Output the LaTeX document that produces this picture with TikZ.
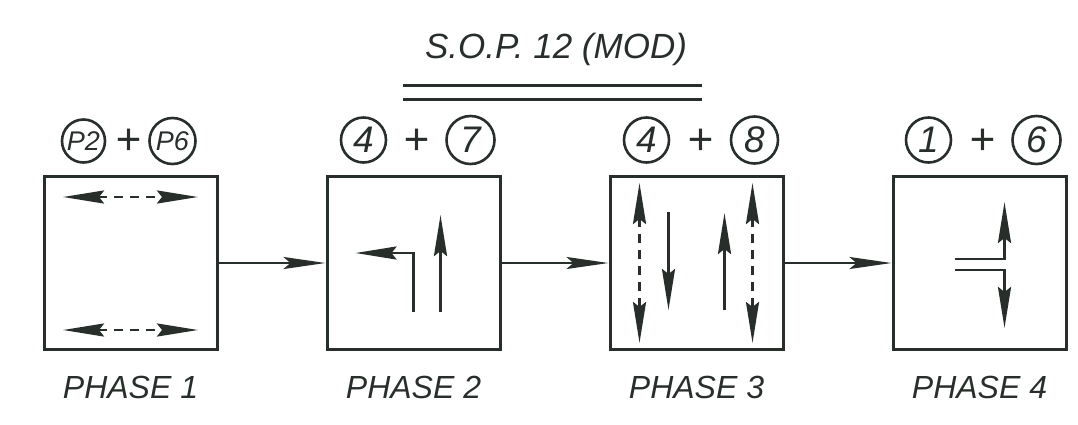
\documentclass[tikz,border=0pt]{standalone}
\usepackage{fontspec}
\setmainfont{Liberation Sans}
\usetikzlibrary{positioning,arrows.meta,calc}
\definecolor{ink}{RGB}{40,46,42}
\tikzset{>={Stealth[length=41pt,width=13pt,inset=5pt]}}

\begin{document}
\begin{tikzpicture}[
    x=1pt, y=-1pt,
    node distance=107pt,
    phasebox/.style={draw=ink, line width=3pt, minimum size=173pt, inner sep=0pt},
    ring/.style={draw=ink, circle, line width=2.6pt, minimum size=45pt, inner sep=0pt, text=ink,
        font=\fontsize{37}{37}\selectfont\itshape},
    plus/.style={text=ink, inner sep=0pt, font=\fontsize{44}{44}\selectfont\itshape},
    caption/.style={text=ink, inner sep=0pt, font=\fontsize{32}{32}\selectfont\itshape},
    move/.style={draw=ink, line width=2.8pt, ->},
    both/.style={move, <->, dash pattern=on 9pt off 7pt},
    link/.style={draw=ink, line width=2.6pt, -{Stealth[length=42pt,width=12pt,inset=7pt]}}
]
    \useasboundingbox (0,0) rectangle (1078,424);

    % Title
    \node[caption, font=\fontsize{35}{35}\selectfont\itshape] (title) at (556,49) {S.O.P. 12 (MOD)};
    \draw[ink, line width=3pt] ($(title.center)+(-153,36)$) -- ++(299,0);
    \draw[ink, line width=3pt] ($(title.center)+(-153,50)$) -- ++(299,0);

    % Boxes
    \node[phasebox] (p1) at (130.5,263) {};
    \node[phasebox, right=of p1] (p2) {};
    \node[phasebox, right=of p2] (p3) {};
    \node[phasebox, right=of p3] (p4) {};

    % Signal groups
    \node[ring, minimum size=43pt, font=\fontsize{27}{27}\selectfont\itshape] (g1a) at ($(p1.north)+(-47,-34)$) {P2};
    \node[ring, minimum size=46pt, font=\fontsize{27}{27}\selectfont\itshape] (g1b) at ($(p1.north)+(42,-34)$) {P6};
    \node[plus] (s1) at ($(p1.north)+(-2,-33)$) {+};

    \node[ring] (g2a) at ($(p2.north)+(-50,-35)$) {4};
    \node[ring, minimum size=48pt] (g2b) at ($(p2.north)+(57,-35)$) {7};
    \node[plus] (s2) at ($(p2.north)+(3,-33)$) {+};

    \node[ring] (g3a) at ($(p3.north)+(-50,-35)$) {4};
    \node[ring, minimum size=47pt] (g3b) at ($(p3.north)+(58,-35)$) {8};
    \node[plus] (s3) at ($(p3.north)+(4,-33)$) {+};

    \node[ring] (g4a) at ($(p4.north)+(-51,-35)$) {1};
    \node[ring, minimum size=48pt] (g4b) at ($(p4.north)+(57,-35)$) {6};
    \node[plus] (s4) at ($(p4.north)+(3,-33)$) {+};

    % Captions
    \node[caption] (l1) at ($(p1.south)+(0,36)$) {PHASE 1};
    \node[caption] (l2) at ($(p2.south)+(0,36)$) {PHASE 2};
    \node[caption] (l3) at ($(p3.south)+(0,36)$) {PHASE 3};
    \node[caption] (l4) at ($(p4.south)+(0,36)$) {PHASE 4};

    % Arrows
    \draw[link] (p1) -- (p2);
    \draw[link] (p2) -- (p3);
    \draw[link] (p3) -- (p4);

    % Movements
    \begin{scope}[shift={(p1.center)}]
        \draw[both] (-67.5,-66) -- (67.5,-66);
        \draw[both] (-67.5,67) -- (67.5,67);
    \end{scope}
    \begin{scope}[shift={(p2.center)}]
        \draw[move] (0,49) -- (0,-10) -- (-58,-10);
        \draw[move] (27,49) -- (27,-48);
    \end{scope}
    \begin{scope}[shift={(p3.center)}]
        \draw[both] (-57,-80) -- (-57,80);
        \draw[move] (-28,-51) -- (-28,47);
        \draw[move] (28,47) -- (28,-50);
        \draw[both] (56,-80) -- (56,80);
    \end{scope}
    \begin{scope}[shift={(p4.center)}]
        \draw[move] (-25,-4) -- (25,-4) -- (25,-61);
        \draw[move] (-25,7) -- (25,7) -- (25,65);
    \end{scope}
\end{tikzpicture}
\end{document}
